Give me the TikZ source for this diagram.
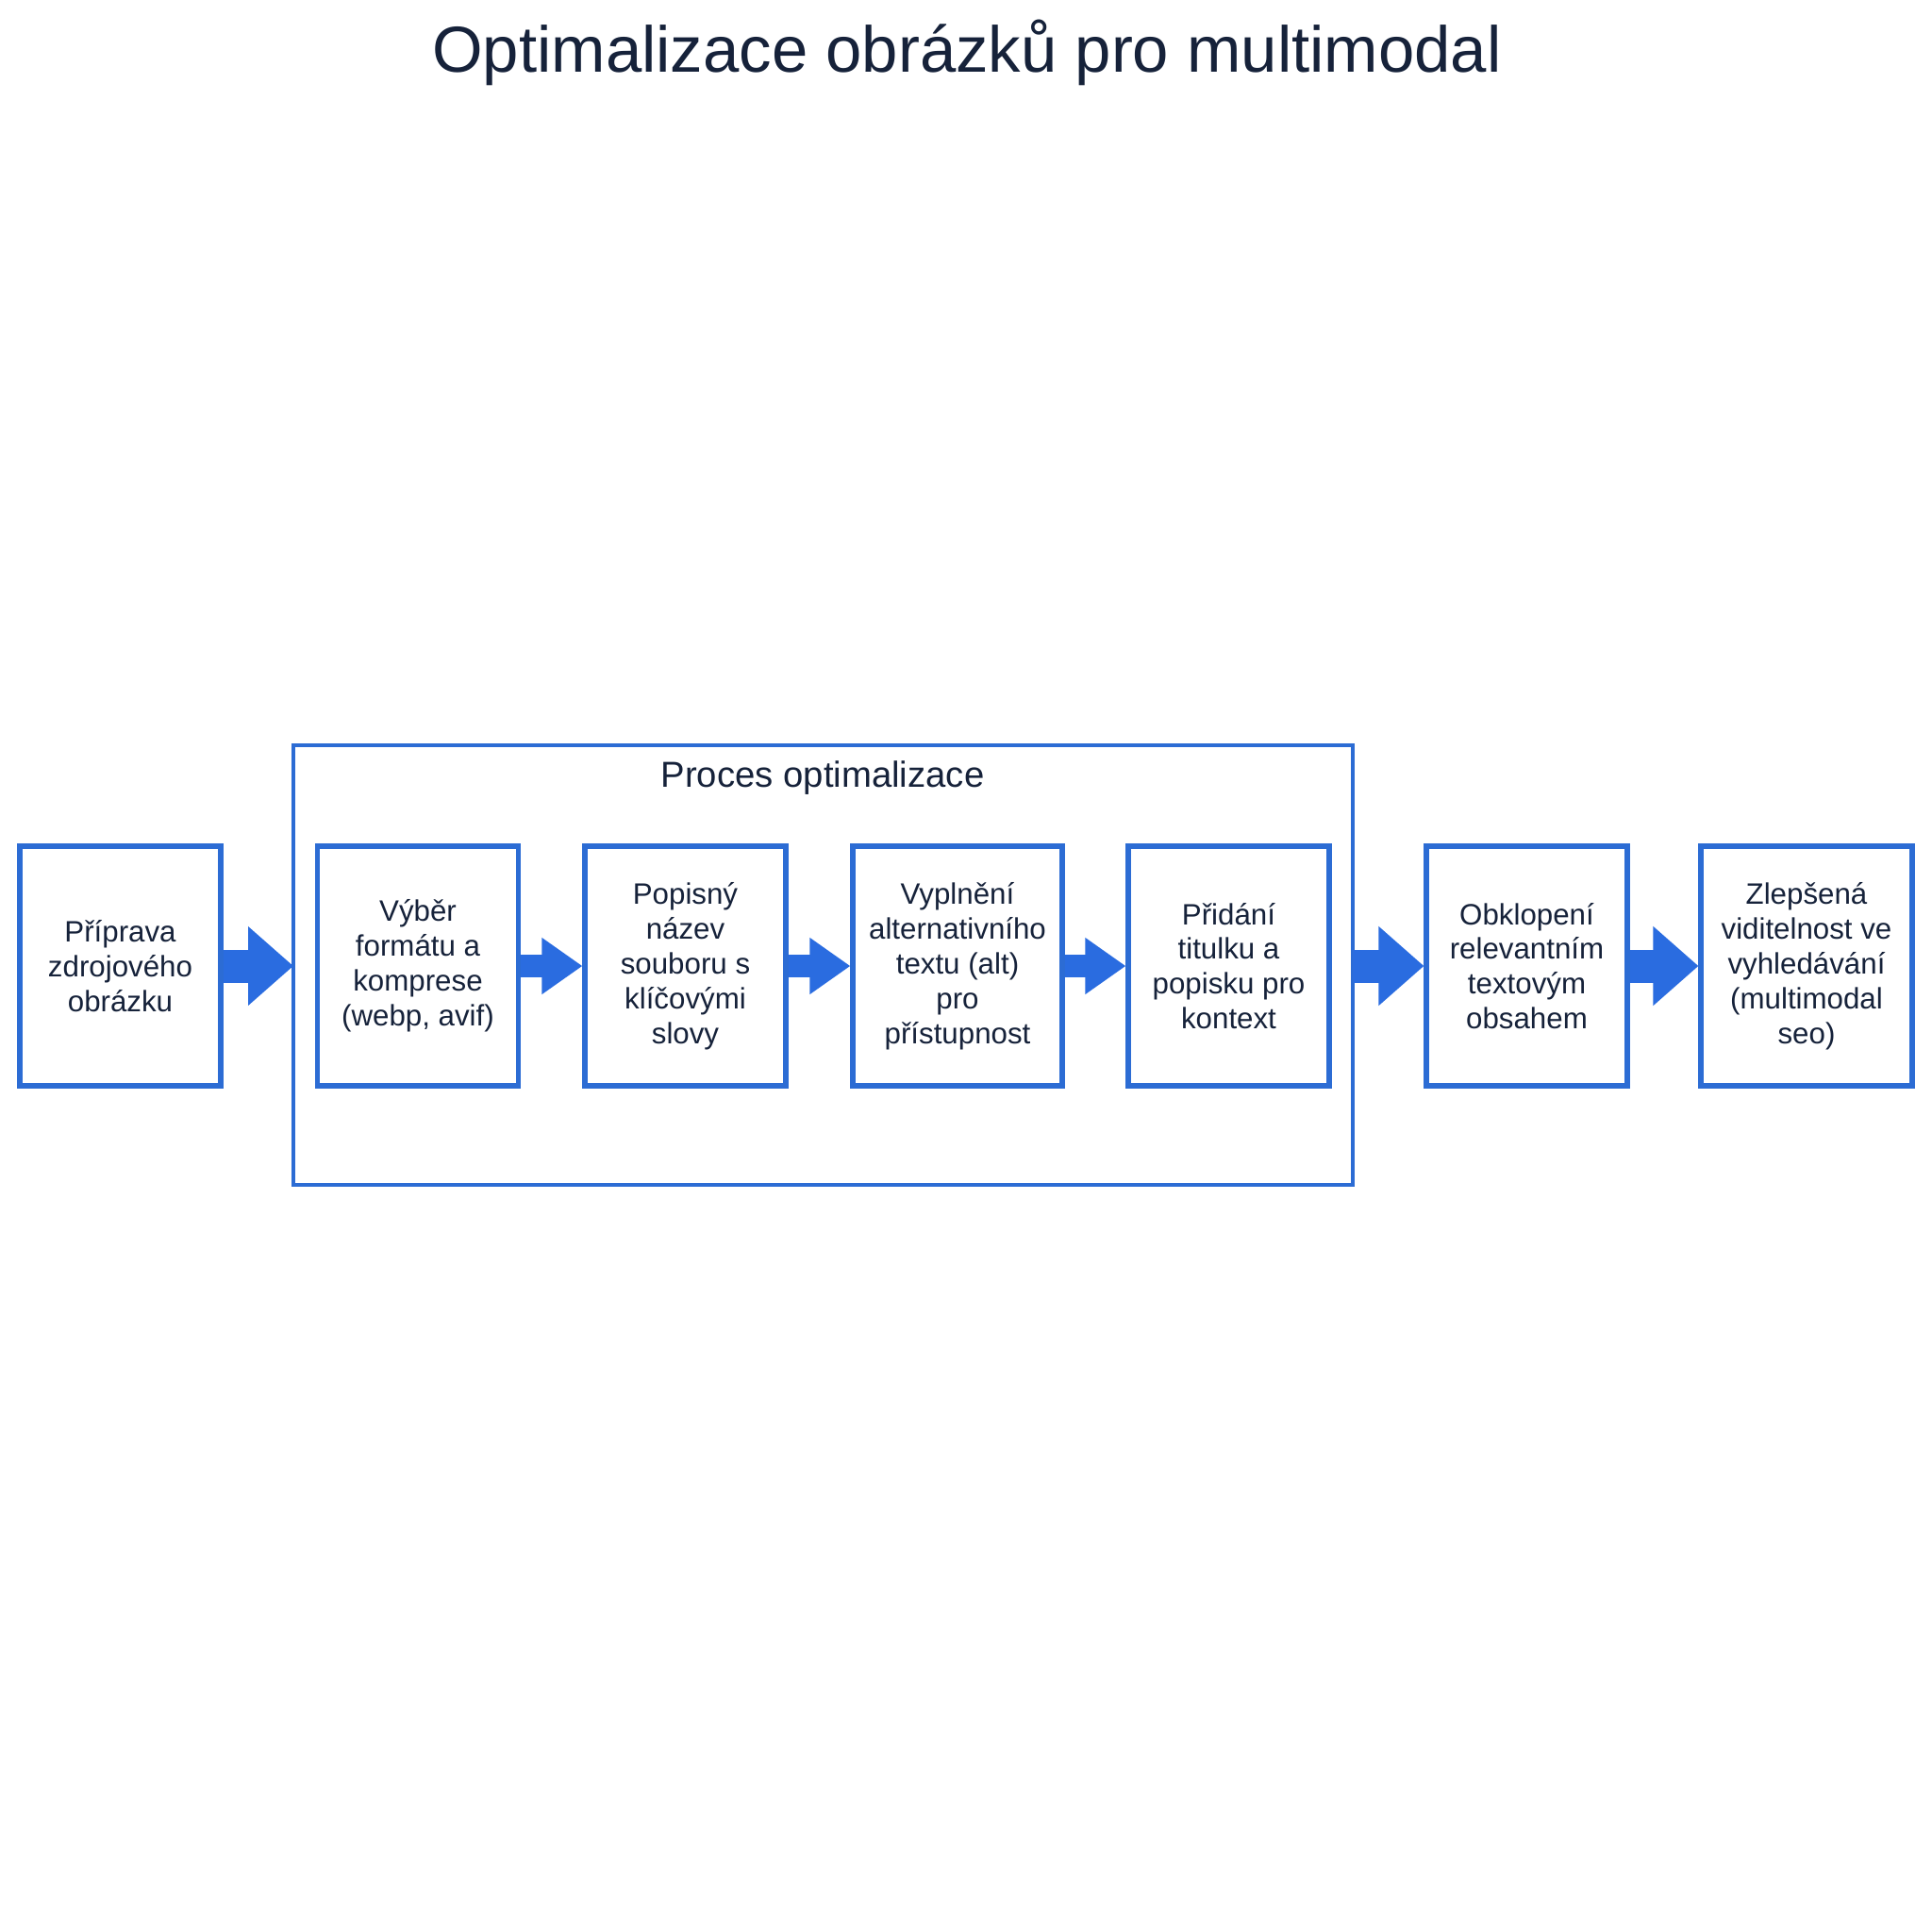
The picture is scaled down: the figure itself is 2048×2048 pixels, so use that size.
\documentclass[tikz,border=0pt]{standalone}
\usepackage{fontspec}
\setmainfont{Liberation Sans}
\usetikzlibrary{positioning}
\usetikzlibrary{arrows.meta}
\definecolor{flowblue}{RGB}{42,108,224}
\definecolor{edgeblue}{RGB}{44,108,212}
\definecolor{inkblue}{RGB}{22,34,58}
\tikzset{stepbox/.style={draw=edgeblue,line width=1.45pt,minimum width=21.3mm,minimum height=25.4mm,
                         inner sep=0pt,align=center,text=inkblue,font=\fontsize{8.9}{10.5}\selectfont},
         groupbox/.style={draw=edgeblue,line width=1.4pt},
         bigflow/.style={draw=flowblue,line width=3.5mm,-{Triangle[length=4.8mm,width=8.1mm]}},
         smallflow/.style={draw=flowblue,line width=2.4mm,-{Triangle[length=4.3mm,width=5.7mm]}},
         }

\begin{document}
\begin{tikzpicture}[x=0.1mm,y=-0.1mm]
\useasboundingbox[fill=white] (0,0) rectangle (2048,2048);
\node[text=inkblue,font=\fontsize{19.6}{23}\selectfont] (title) at (1025,56) {Optimalizace obrázků pro multimodal};
% process group
\draw[groupbox] (311,790) rectangle (1434,1256);
\node[text=inkblue,font=\fontsize{10.9}{13}\selectfont] (grouplabel) at (872,825) {Proces optimalizace};
% steps
\node[stepbox] (source) at (127.5,1024) {Příprava\\zdrojového\\obrázku};
\node[stepbox] (format) at (443,1024) {Výběr\\formátu a\\komprese\\(webp, avif)};
\node[stepbox] (filename) at (726.5,1024) {Popisný\\název\\souboru s\\klíčovými\\slovy};
\node[stepbox,minimum width=22.2mm] (alttext) at (1015,1024) {Vyplnění\\alternativního\\textu (alt)\\pro\\přístupnost};
\node[stepbox] (caption) at (1302.5,1024) {Přidání\\titulku a\\popisku pro\\kontext};
\node[stepbox] (context) at (1618.5,1024) {Obklopení\\relevantním\\textovým\\obsahem};
\node[stepbox,minimum width=22.4mm] (result) at (1915,1024) {Zlepšená\\viditelnost ve\\vyhledávání\\(multimodal\\seo)};
\coordinate (groupin) at (311,1024);
\coordinate (groupout) at (1434,1024);
% arrows
\draw[bigflow] (source) -- (groupin);
\draw[smallflow] (format) -- (filename);
\draw[smallflow] (filename) -- (alttext);
\draw[smallflow] (alttext) -- (caption);
\draw[bigflow] (groupout) -- (context);
\draw[bigflow] (context) -- (result);
\end{tikzpicture}
\end{document}
